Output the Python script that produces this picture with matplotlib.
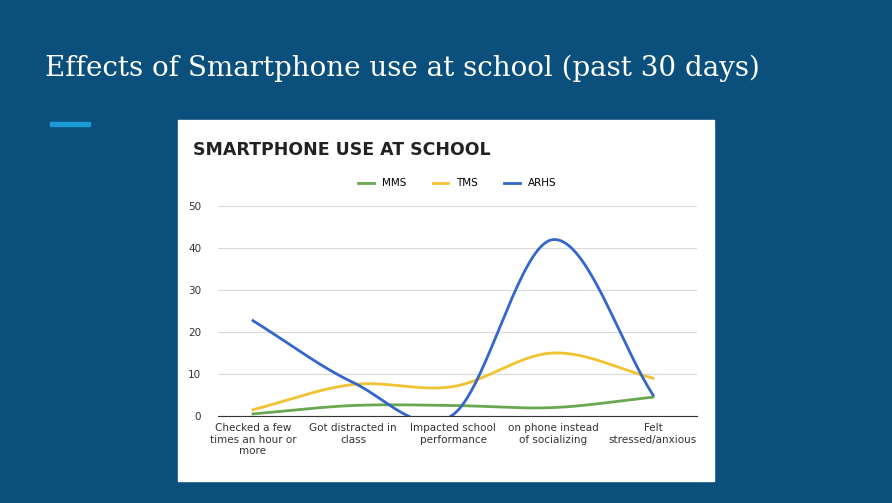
import numpy as np
import matplotlib.pyplot as plt
from matplotlib.patches import Rectangle

categories = ["Checked a few\ntimes an hour or\nmore", "Got distracted in\nclass",
              "Impacted school\nperformance", "on phone instead\nof socializing",
              "Felt\nstressed/anxious"]
mms = [0.5, 2.5, 2.5, 2.0, 4.5]
tms = [1.5, 7.5, 7.0, 15.0, 9.0]
arhs = [22.7, 8.0, 0.3, 42.0, 5.0]
series = [("MMS", mms, "#6aa84f"), ("TMS", tms, "#f1c232"), ("ARHS", arhs, "#3366cc")]


def smooth(y, n=40):
    # Catmull-Rom through the points
    y = np.asarray(y, float)
    p = np.concatenate([[2 * y[0] - y[1]], y, [2 * y[-1] - y[-2]]])
    xs, ys = [], []
    for i in range(len(y) - 1):
        t = np.linspace(0, 1, n)
        p0, p1, p2, p3 = p[i], p[i + 1], p[i + 2], p[i + 3]
        yy = 0.5 * (2 * p1 + (-p0 + p2) * t + (2 * p0 - 5 * p1 + 4 * p2 - p3) * t ** 2
                    + (-p0 + 3 * p1 - 3 * p2 + p3) * t ** 3)
        xs.append(i + t)
        ys.append(yy)
    return np.concatenate(xs), np.concatenate(ys)


fig = plt.figure(figsize=(8.92, 5.03), dpi=100)
fig.patch.set_facecolor("#0b4f7c")
fig.text(45 / 892, 1 - 68 / 503, "Effects of Smartphone use at school (past 30 days)",
         color="white", fontsize=20, family="DejaVu Serif", va="center")
fig.add_artist(Rectangle((50 / 892, 1 - 126 / 503), 40 / 892, 4 / 503,
                         transform=fig.transFigure, color="#1a9ad6"))
fig.add_artist(Rectangle((178 / 892, 1 - 481 / 503), 536 / 892, 361 / 503,
                         transform=fig.transFigure, color="white", zorder=0))
fig.text(193 / 892, 1 - 150 / 503, "SMARTPHONE USE AT SCHOOL", fontsize=12.5,
         weight="bold", color="#222222", va="center")

ax = fig.add_axes([218 / 892, 87 / 503, 479 / 892, 210 / 503])
ax.set_facecolor("white")
for name, vals, col in series:
    xs, ys = smooth(vals)
    ax.plot(xs, ys, color=col, lw=2, label=name)
ax.set_xlim(-0.35, 4.44)
ax.set_ylim(0, 50)
ax.set_yticks(range(0, 51, 10))
ax.set_xticks(range(len(categories)))
ax.set_xticklabels(categories, fontsize=7.5, color="#333333")
ax.tick_params(axis="y", labelsize=7.5, colors="#333333", length=0, pad=12)
ax.tick_params(axis="x", length=0, pad=5)
ax.grid(axis="y", color="#d9d9d9", lw=0.8)
for s in ["top", "right", "left"]:
    ax.spines[s].set_visible(False)
ax.spines["bottom"].set_color("#333333")
ax.legend(loc="lower center", bbox_to_anchor=(0.5, 1.04), ncol=3, frameon=False,
          fontsize=7.5, handlelength=1.5, columnspacing=2.5)

fig.savefig("out.png", dpi=100, facecolor=fig.get_facecolor())
